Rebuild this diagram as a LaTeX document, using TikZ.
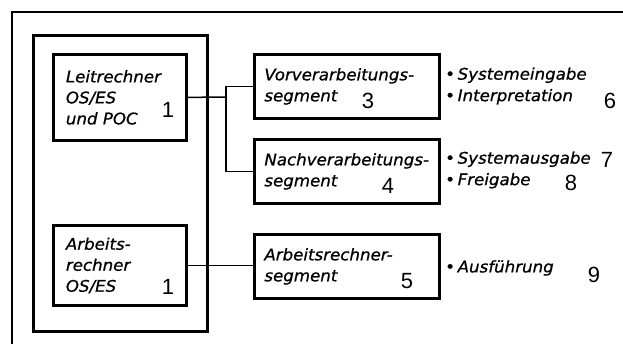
\documentclass[tikz,border=0pt]{standalone}
\usepackage{fontspec}
\setmainfont{Liberation Sans}
\newfontfamily\stencil[FakeStretch=1.04,FakeBold=0.8]{DejaVu Sans}
\usepackage{tikz}
\usetikzlibrary{positioning,calc}

\begin{document}
\begin{tikzpicture}[
    x=1pt, y=-1pt,
    seg/.style={rectangle, draw, line width=2.8pt, inner xsep=12pt,
                align=left, anchor=north west,
                font=\stencil\itshape\fontsize{16}{21}\selectfont},
    num/.style={font=\fontsize{22}{22}\selectfont, inner sep=0pt},
    duty/.style={align=left, anchor=west, inner sep=0pt,
                 font=\stencil\itshape\fontsize{16}{21.5}\selectfont},
    link/.style={line width=1.5pt},
]
    \useasboundingbox (0,0) rectangle (623,344);

    % Frame (open to the right and below)
    \draw[line width=1.8pt] (623,12) -- (12,12) -- (12,344);

    % Host computer rack
    \node[draw, line width=2.8pt, anchor=north west, minimum width=174pt,
          minimum height=296pt] (rack) at (32,34) {};

    % Computers
    \node[seg, minimum width=133pt, minimum height=86pt, text width=108pt]
        (leit) at (52,53) {Leitrechner\\OS/ES\\und POC};
    \node[seg, minimum width=133pt, minimum height=80pt, text width=108pt]
        (arb) at (52,224) {Arbeits-\\rechner\\OS/ES};
    \node[num] (n1a) at (168,110) {1};
    \node[num] (n1b) at (168,287) {1};

    % Segments
    \node[seg, inner xsep=10pt, minimum width=185pt, minimum height=64pt,
          text width=165pt] (vor) at (253,53) {Vorverarbeitungs-\\segment};
    \node[seg, inner xsep=10pt, minimum width=185pt, minimum height=64pt,
          text width=165pt] (nach) at (253,138) {Nachverarbeitungs-\\segment};
    \node[seg, inner xsep=10pt, minimum width=185pt, minimum height=64pt,
          text width=165pt] (aseg) at (253,233) {Arbeitsrechner-\\segment};
    \node[num] (n3) at (368,101) {3};
    \node[num] (n4) at (388,186) {4};
    \node[num] (n5) at (407,281) {5};

    % Connectors
    \coordinate (split) at (226,97);
    \draw[link] (leit.east) -- (split);
    \draw[link] (vor.west) -| (split) |- (nach.west);
    \draw[link] (arb.east) -- (arb.east -| aseg.west);

    % Tasks
    \node[duty] (t1) at (445,86)
        {\textbullet\,Systemeingabe\\\textbullet\,Interpretation};
    \node[duty] (t2) at (445,170)
        {\textbullet\,Systemausgabe\\\textbullet\,Freigabe};
    \node[duty] (t3) at (445,268) {\textbullet\,Ausführung};
    \node[num] (n6) at (610,101) {6};
    \node[num] (n7) at (607,160) {7};
    \node[num] (n8) at (571,183) {8};
    \node[num] (n9) at (594,275) {9};
\end{tikzpicture}
\end{document}
